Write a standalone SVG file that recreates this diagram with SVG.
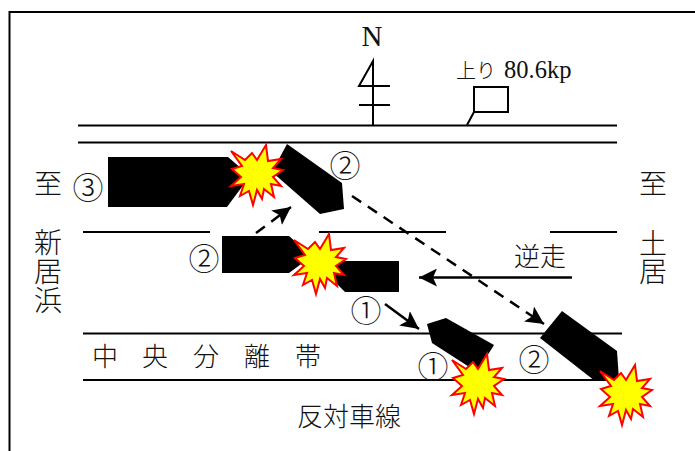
<svg xmlns="http://www.w3.org/2000/svg" xmlns:xlink="http://www.w3.org/1999/xlink" width="695" height="451" viewBox="0 0 695 451">
<style>
.l{stroke:#000;stroke-width:2;fill:none}
.c{stroke:#000;stroke-width:2.500;fill:none}
.d{stroke-dasharray:11 8}
.car{fill:#000}
.b{fill:#ff0;stroke:#f00;stroke-width:2}
.j{font-family:"Noto Sans CJK JP","Noto Sans",sans-serif;font-weight:300;fill:#111}
.v{writing-mode:vertical-rl;font-size:28px}
.n{font-family:"Noto Sans CJK JP","Noto Sans",sans-serif;font-weight:300;fill:#111;font-size:31px;text-anchor:middle}
.s{font-family:"Liberation Serif",serif;fill:#111}
</style>
<defs>
<marker id="ah" markerUnits="userSpaceOnUse" markerWidth="19" markerHeight="18" refX="18" refY="9" orient="auto"><path d="M0 0L18 9L0 18L4 9Z" fill="#000"/></marker>
<polygon id="burst" points="-26,-22 -12,-13 -5,-20 0,-13 9,-28 11,-12 24,-14 16,-5 26,-3 16,4 24,13 14,11 17,24 7,16 5,26 0,17 -4,32 -8,18 -17,23 -13,11 -26,13 -16,4 -25,-4 -15,-7"/>
</defs>
<rect x="9.500" y="12" width="720" height="480" class="l"/>
<g id="road">
<path class="l" d="M78 125.500H617M78 142.500H617M83 232H210M319 232H446M550 232H617M83 333.500H622M83 380H617"/>
</g>
<g id="north">
<text x="372" y="46" class="s" font-size="29" text-anchor="middle">N</text>
<path class="l" d="M373 125V61L359 86H390M359 105H390"/>
</g>
<g id="kp">
<text x="456" y="78" class="j" font-size="20">上り</text>
<text x="504" y="78" class="s" font-size="24.500">80.6kp</text>
<path class="l" d="M474 87H508V112H474ZM474 112L467 125"/>
</g>
<g id="labels">
<text x="34" y="194" class="j" font-size="28">至</text>
<text x="48" y="228" class="j v" letter-spacing="1">新居浜</text>
<text x="639" y="194" class="j" font-size="28">至</text>
<text x="653" y="229" class="j v">土居</text>
<text x="92" y="366" class="j" font-size="26">中</text>
<text x="142" y="366" class="j" font-size="26">央</text>
<text x="193" y="366" class="j" font-size="26">分</text>
<text x="244" y="366" class="j" font-size="26">離</text>
<text x="295" y="366" class="j" font-size="26">帯</text>
<text x="297" y="426" class="j" font-size="26">反対車線</text>
<text x="514" y="266" class="j" font-size="26">逆走</text>
</g>
<g id="connectors">
<path class="c d" d="M256 233L291 207" marker-end="url(#ah)"/>
<path class="c d" d="M352 196L544 324" marker-end="url(#ah)"/>
<path class="c" d="M572 277.500H419" marker-end="url(#ah)"/>
<path class="c" d="M385 304L419 329" marker-end="url(#ah)"/>
</g>
<g id="car3">
<polygon class="car" points="108,157 228,157 250,176 227,207 108,207"/>
<text x="88" y="199" class="n">③</text>
</g>
<g id="car2a">
<polygon class="car" points="287,144 342,183 344,209 320,214 272,172"/>
<text x="345" y="177" class="n">②</text>
</g>
<g id="car2b">
<polygon class="car" points="222,236 289,236 312,256 289,273 222,273"/>
<text x="204" y="270" class="n">②</text>
</g>
<g id="car1a">
<polygon class="car" points="399,261 399,292 345,292 325,272 330,261"/>
<text x="366" y="322" class="n">①</text>
</g>
<g id="car1b">
<polygon class="car" points="427,324 446,318 494,345 477,372 432,343"/>
<text x="433" y="378" class="n">①</text>
</g>
<g id="car2c">
<polygon class="car" points="562,311 617,351 619,380 595,381 540,338"/>
<text x="534" y="371" class="n">②</text>
</g>
<g id="burst1"><use xlink:href="#burst" href="#burst" class="b" transform="translate(257,173)"/></g>
<g id="burst2"><use xlink:href="#burst" href="#burst" class="b" transform="translate(320,262)"/></g>
<g id="burst3"><use xlink:href="#burst" href="#burst" class="b" transform="translate(478,382)"/></g>
<g id="burst4"><use xlink:href="#burst" href="#burst" class="b" transform="translate(626,393)"/></g>
</svg>
